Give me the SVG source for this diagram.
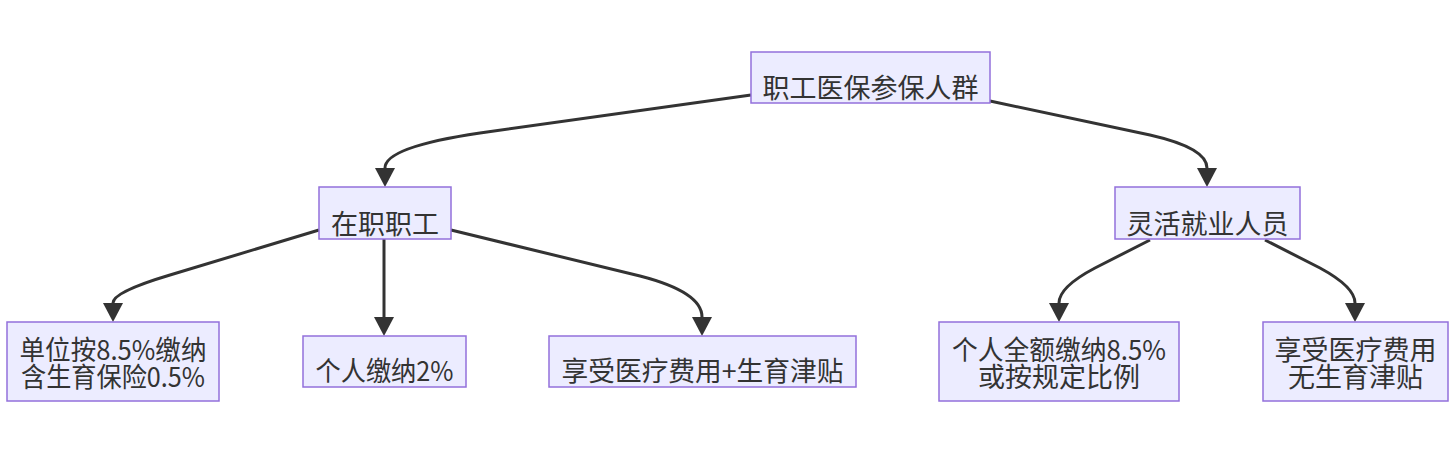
<svg xmlns="http://www.w3.org/2000/svg" width="1452" height="452" viewBox="0 0 1452 452">
<style>
.node rect{fill:#ECECFF;stroke:#9370DB;stroke-width:1.5}
.node text{font-family:"Noto Sans CJK SC","Noto Sans",sans-serif;font-size:27px;fill:#333;text-anchor:middle}
.edge{fill:none;stroke:#333;stroke-width:3}
</style>
<defs>
<marker id="arr" markerUnits="userSpaceOnUse" markerWidth="20" markerHeight="20" viewBox="0 0 20 20" refX="0" refY="10" orient="auto">
<path d="M0,0 L19,10 L0,20 Z" fill="#333"/>
</marker>
</defs>
<rect width="1452" height="452" fill="#fff"/>
<g id="connectors">
<path class="edge" marker-end="url(#arr)" d="M751,95 L480,133 Q385,147 385,168"/>
<path class="edge" marker-end="url(#arr)" d="M990,101 L1150,135 Q1207,148 1207,168"/>
<path class="edge" marker-end="url(#arr)" d="M319,230 L170,275 Q113,292 113,303"/>
<path class="edge" marker-end="url(#arr)" d="M384,239 L384,317"/>
<path class="edge" marker-end="url(#arr)" d="M451,230 L640,276 Q702,292 702,317"/>
<path class="edge" marker-end="url(#arr)" d="M1150,240 L1095,268 Q1059,287 1059,303"/>
<path class="edge" marker-end="url(#arr)" d="M1265,240 L1320,268 Q1355,287 1355,303"/>
</g>
<g id="root" class="node"><rect x="751" y="52" width="239" height="51"/><text x="870.5" y="98">职工医保参保人群</text></g>
<g id="zaizhi" class="node"><rect x="319" y="187" width="132" height="52"/><text x="385" y="234">在职职工</text></g>
<g id="linghuo" class="node"><rect x="1115" y="187" width="185" height="52"/><text x="1207.5" y="234">灵活就业人员</text></g>
<g id="danwei" class="node"><rect x="7" y="322" width="212" height="79"/><text x="113" y="360" textLength="187" lengthAdjust="spacingAndGlyphs">单位按8.5%缴纳</text><text x="113" y="387" textLength="184" lengthAdjust="spacingAndGlyphs">含生育保险0.5%</text></g>
<g id="geren2" class="node"><rect x="303" y="336" width="163" height="51"/><text x="384.5" y="381" textLength="138" lengthAdjust="spacingAndGlyphs">个人缴纳2%</text></g>
<g id="xiangshou1" class="node"><rect x="549" y="336" width="307" height="51"/><text x="702.5" y="381" textLength="282" lengthAdjust="spacingAndGlyphs">享受医疗费用+生育津贴</text></g>
<g id="quane" class="node"><rect x="939" y="322" width="240" height="79"/><text x="1059" y="360" textLength="214" lengthAdjust="spacingAndGlyphs">个人全额缴纳8.5%</text><text x="1059" y="387">或按规定比例</text></g>
<g id="xiangshou2" class="node"><rect x="1263" y="322" width="185" height="79"/><text x="1355.5" y="360">享受医疗费用</text><text x="1355.5" y="387">无生育津贴</text></g>
</svg>
